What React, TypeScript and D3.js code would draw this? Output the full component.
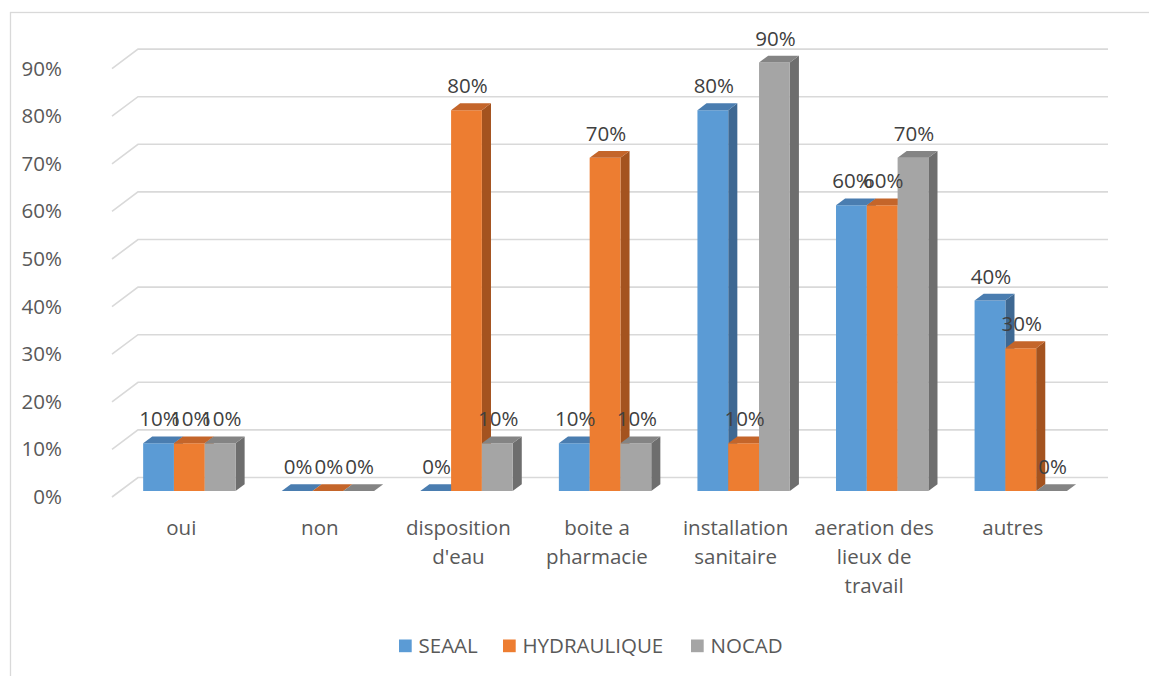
import React from "react";
import * as d3 from "d3";

// Categories (each entry is the wrapped label lines)
const categories: string[][] = [
  ["oui"],
  ["non"],
  ["disposition", "d'eau"],
  ["boite a", "pharmacie"],
  ["installation", "sanitaire"],
  ["aeration des", "lieux de", "travail"],
  ["autres"],
];

const seriesNames = ["SEAAL", "HYDRAULIQUE", "NOCAD"];
const seaal = [0.1, 0, 0, 0.1, 0.8, 0.6, 0.4];
const hydraulique = [0.1, 0, 0.8, 0.7, 0.1, 0.6, 0.3];
const nocad = [0.1, 0, 0.1, 0.1, 0.9, 0.7, 0];
const yTicks = [0, 0.1, 0.2, 0.3, 0.4, 0.5, 0.6, 0.7, 0.8, 0.9];

// front / top / side shades for each series
const palette = [
  { front: "#5B9BD5", top: "#4A7DB0", side: "#3E6892" },
  { front: "#ED7D31", top: "#C4652A", side: "#A4531F" },
  { front: "#A5A5A5", top: "#848484", side: "#6E6E6E" },
];

const W = 1149;
const H = 676;
const FONT = "'Open Sans', sans-serif";

// oblique projection: floor depth shifts right and up
const DEPTH_X = 26;
const DEPTH_Y = 19.5;
const BAR_Z0 = 0.31;
const BAR_Z1 = 0.66;

export default function App() {
  const series = [seaal, hydraulique, nocad];

  const x = d3
    .scaleBand<number>()
    .domain(categories.map((_, i) => i))
    .range([112, 1082])
    .paddingInner(0)
    .paddingOuter(0);

  const y = d3.scaleLinear().domain([0, 0.9]).range([497, 68.6]);

  const band = x.bandwidth();
  const barW = band / (series.length + 1.5);

  const proj = (px: number, v: number, z: number): [number, number] => [
    px + z * DEPTH_X,
    y(v) - z * DEPTH_Y,
  ];
  const poly = (pts: [number, number][]) => pts.map((p) => p.join(",")).join(" ");

  const pct = d3.format(".0%");

  const bars: React.ReactNode[] = [];
  const labels: React.ReactNode[] = [];

  categories.forEach((_, ci) => {
    // group centred on the band, measured in the bars' own depth plane
    const groupStart = x(ci)! + band / 2 - (barW * series.length) / 2;
    series.forEach((vals, si) => {
      const v = vals[ci];
      const fx0 = groupStart + si * barW;
      const fx1 = fx0 + barW;
      const c = palette[si];
      const front = [
        proj(fx0, 0, BAR_Z0),
        proj(fx1, 0, BAR_Z0),
        proj(fx1, v, BAR_Z0),
        proj(fx0, v, BAR_Z0),
      ];
      const top = [
        proj(fx0, v, BAR_Z0),
        proj(fx1, v, BAR_Z0),
        proj(fx1, v, BAR_Z1),
        proj(fx0, v, BAR_Z1),
      ];
      const side = [
        proj(fx1, 0, BAR_Z0),
        proj(fx1, 0, BAR_Z1),
        proj(fx1, v, BAR_Z1),
        proj(fx1, v, BAR_Z0),
      ];
      bars.push(
        <g key={`b-${ci}-${si}`}>
          {v > 0 && <polygon points={poly(side)} fill={c.side} />}
          {v > 0 && <polygon points={poly(front)} fill={c.front} />}
          <polygon points={poly(top)} fill={c.top} />
        </g>
      );
      const [lx, ly] = proj((fx0 + fx1) / 2 + 1, v, BAR_Z0);
      labels.push(
        <text
          key={`l-${ci}-${si}`}
          x={lx}
          y={ly - 17}
          textAnchor="middle"
          fontFamily={FONT}
          fontSize={20.5}
          fill="#404040"
        >
          {pct(v)}
        </text>
      );
    });
  });

  const gx0 = x.range()[0];
  const gx1 = x.range()[1];

  return (
    <svg
      width={W}
      height={H}
      viewBox={`0 0 ${W} ${H}`}
      style={{ position: "absolute", left: 0, top: 0, background: "#fff" }}
    >
      <rect x={0} y={0} width={W} height={H} fill="#fff" />
      <rect x={10.5} y={12.5} width={W + 40} height={H + 40} fill="none" stroke="#D9D9D9" strokeWidth={1.3} />

      {/* gridlines: short oblique run on the side wall, then along the back wall */}
      {yTicks.map((t) => {
        const a = proj(gx0, t, 0);
        const b = proj(gx0, t, 1);
        const c = proj(gx1, t, 1);
        return (
          <polyline
            key={`g-${t}`}
            points={poly([a, b, c])}
            fill="none"
            stroke="#D9D9D9"
            strokeWidth={1.6}
          />
        );
      })}

      {/* value axis labels */}
      {yTicks.map((t) => (
        <text
          key={`t-${t}`}
          x={62}
          y={y(t) + 7}
          textAnchor="end"
          fontFamily={FONT}
          fontSize={20.5}
          fill="#595959"
        >
          {pct(t)}
        </text>
      ))}

      {bars}
      {labels}

      {/* category labels */}
      {categories.map((lines, ci) => (
        <text
          key={`c-${ci}`}
          x={x(ci)! + band / 2}
          y={535}
          textAnchor="middle"
          fontFamily={FONT}
          fontSize={20.5}
          fill="#595959"
        >
          {lines.map((ln, li) => (
            <tspan key={li} x={x(ci)! + band / 2} dy={li === 0 ? 0 : 29}>
              {ln}
            </tspan>
          ))}
        </text>
      ))}

      {/* legend */}
      {seriesNames.map((name, si) => {
        const lx = [399, 503, 691][si];
        return (
          <g key={`lg-${si}`}>
            <rect x={lx} y={639.5} width={12.7} height={12.7} fill={palette[si].front} />
            <text x={lx + 19.5} y={653} fontFamily={FONT} fontSize={20.5} fill="#595959">
              {name}
            </text>
          </g>
        );
      })}
    </svg>
  );
}
